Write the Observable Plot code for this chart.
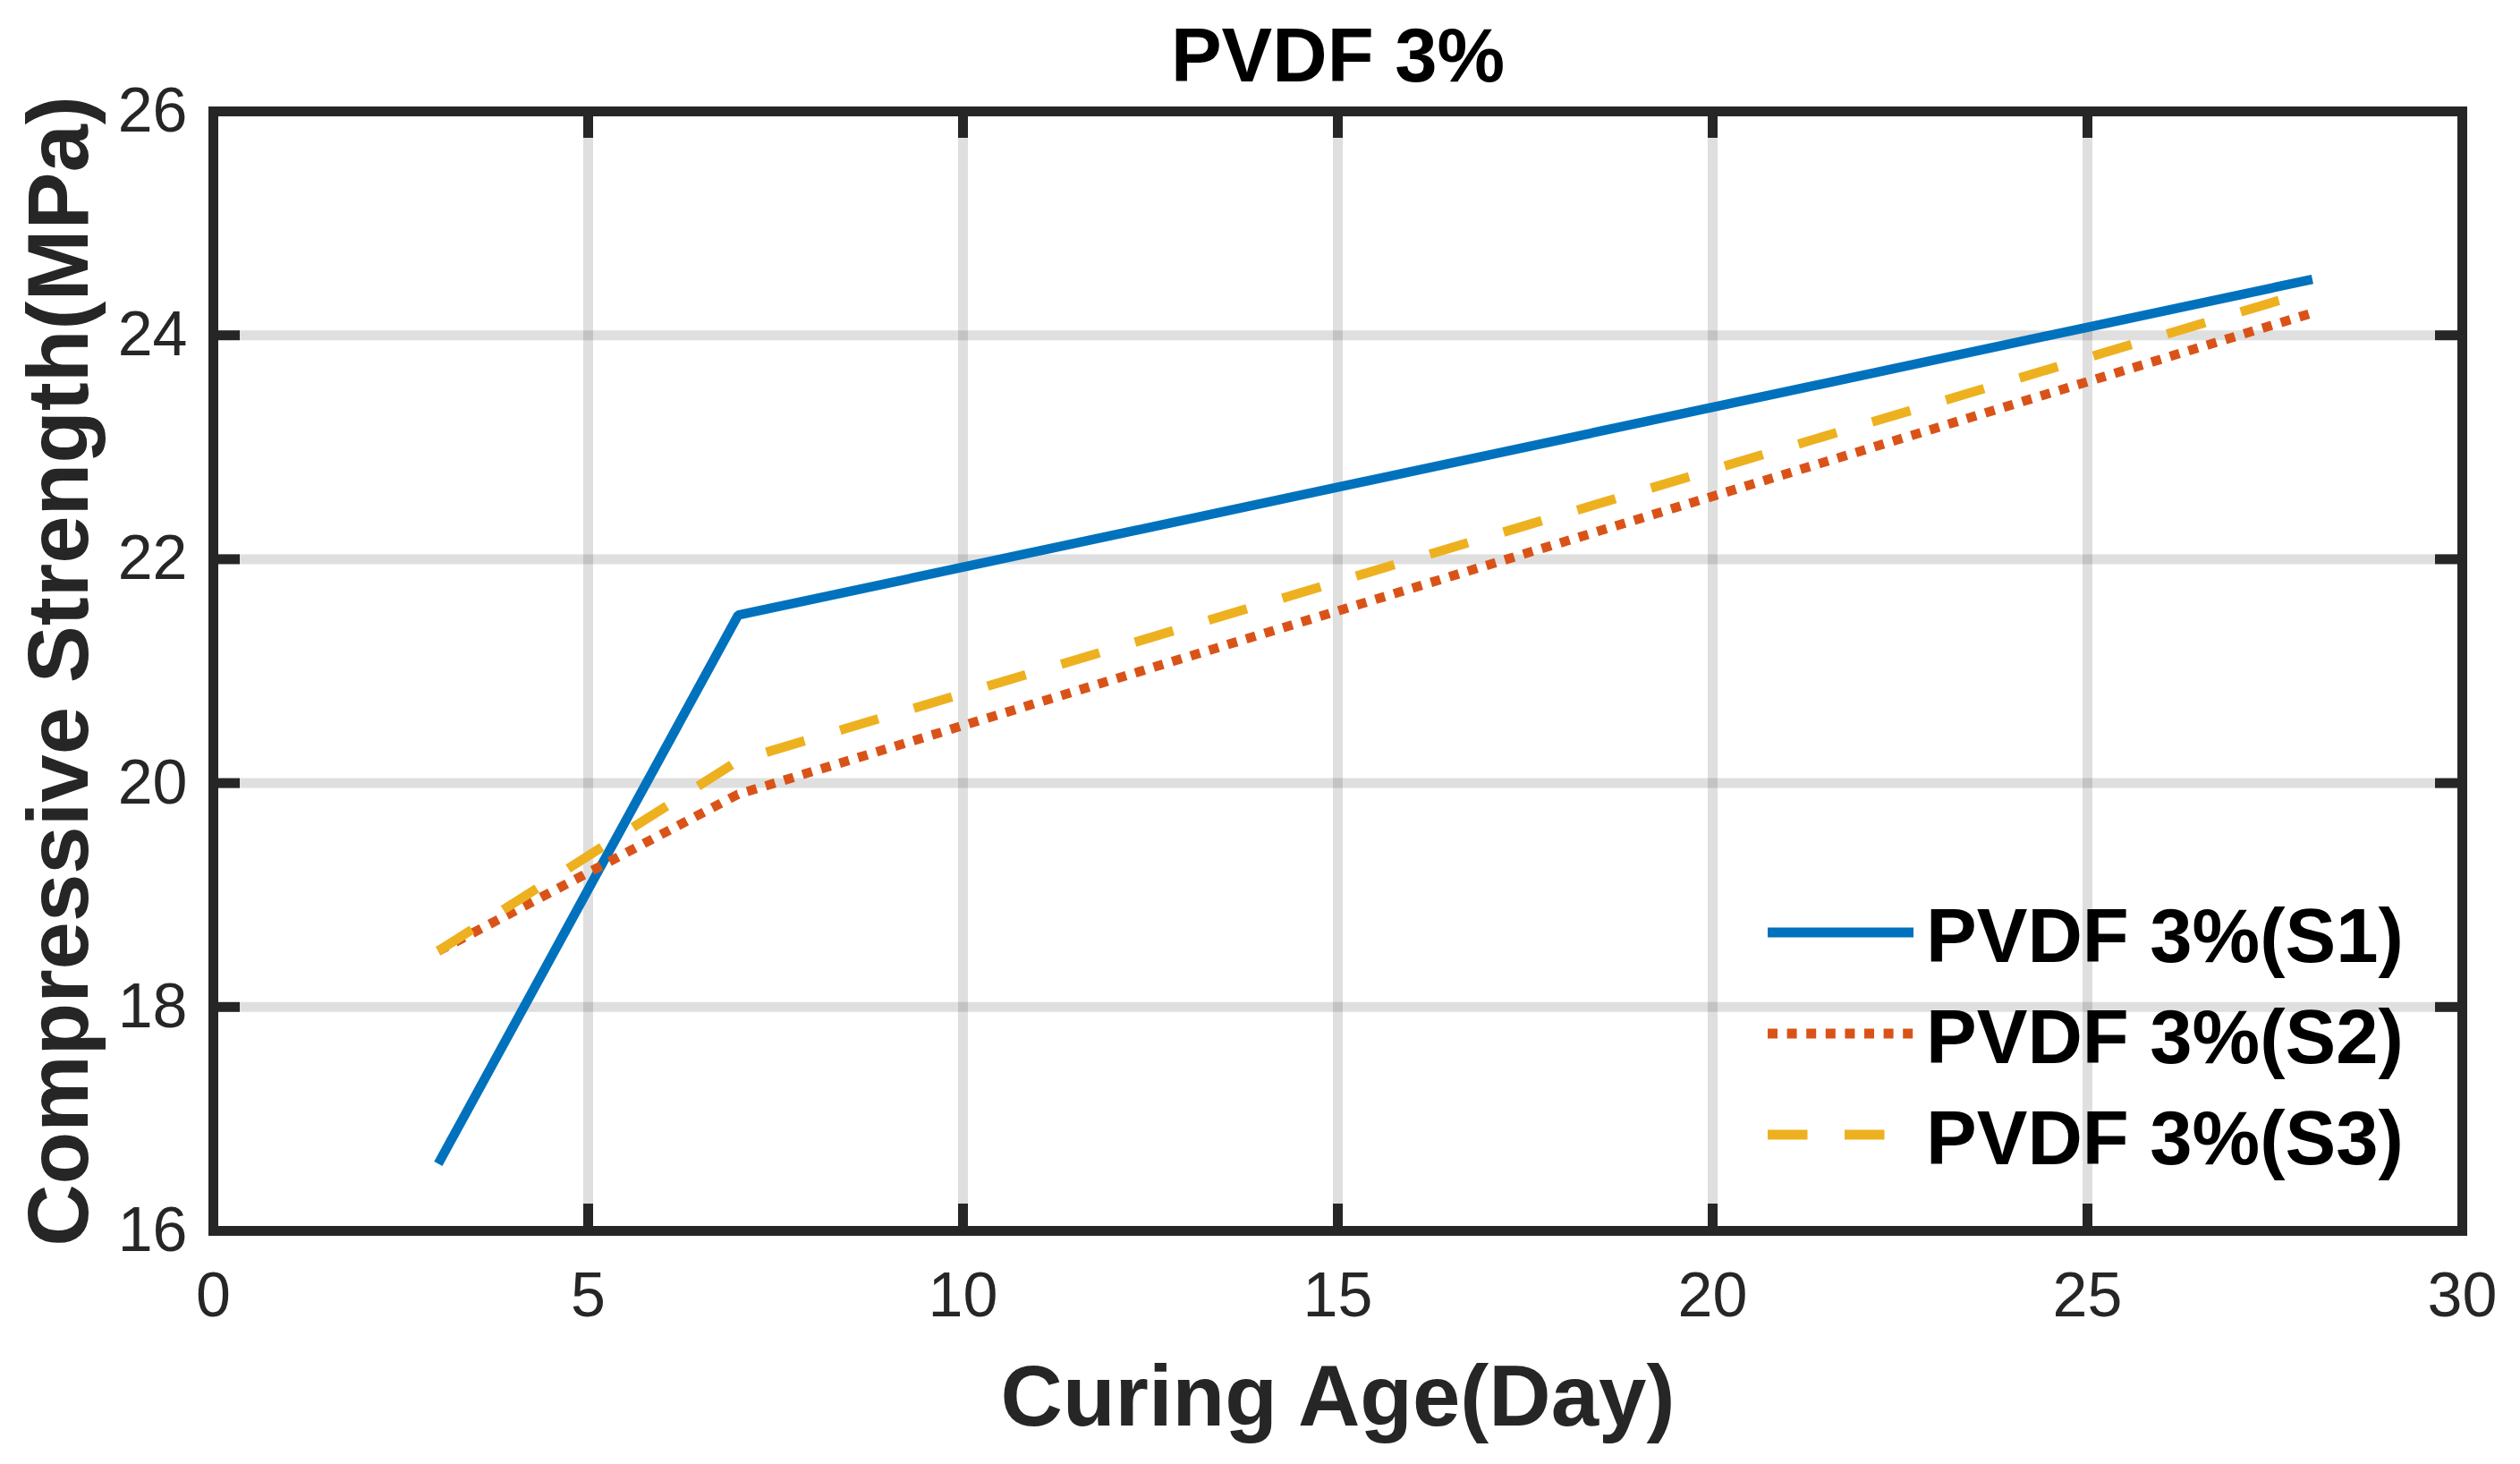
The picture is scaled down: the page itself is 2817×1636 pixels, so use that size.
<!DOCTYPE html>
<html>
<head>
<meta charset="utf-8">
<script src="https://cdn.jsdelivr.net/npm/d3@7"></script>
<script src="https://cdn.jsdelivr.net/npm/@observablehq/plot@0.6"></script>
<style>
html, body { margin: 0; padding: 0; background: #fff; overflow: hidden; }
#chart { position: relative; width: 2817px; height: 1636px; }
#chart svg { position: absolute; left: 0; top: 0; }
</style>
</head>
<body>
<div id="chart"></div>
<script>
// ---- data ----
const days = [3, 7, 28];
const seriesNames = ["PVDF 3%(S1)", "PVDF 3%(S2)", "PVDF 3%(S3)"];
const s1 = [16.6, 21.5, 24.5];
const s2 = [18.5, 19.9, 24.2];
const s3 = [18.5, 20.2, 24.4];
const xTicks = [0, 5, 10, 15, 20, 25, 30];
const yTicks = [16, 18, 20, 22, 24, 26];
const titleText = "PVDF 3%";
const xLabel = "Curing Age(Day)";
const yLabel = "Compressive Strength(MPa)";

// ---- styles ----
const colors = ["#0072BD", "#D95319", "#EDB120"];
const dashes = [null, "11,10.6", "44.5,41.5"];
const W = 2817, H = 1636;
const mL = 238, mR = 65, mT = 124, mB = 261;
const innerH = H - mT - mB;
const innerW = W - mL - mR;
const tickLen = 30;
const axisColor = "#262626";
const font = "'Liberation Sans', Arial, Helvetica, sans-serif";

const seriesValues = [s1, s2, s3];
const rows = seriesValues.flatMap((vals, k) =>
  days.map((d, i) => ({series: seriesNames[k], day: d, value: vals[i]}))
);

const lineMarks = seriesNames.map((name, k) =>
  Plot.line(rows.filter(r => r.series === name), {
    x: "day", y: "value",
    stroke: colors[k], strokeWidth: 10.5,
    strokeLinecap: "butt", strokeLinejoin: "miter",
    ...(dashes[k] ? {strokeDasharray: dashes[k]} : {})
  })
);

const tickStyle = {stroke: axisColor, strokeWidth: 11};
const fmt = d => String(d);

const chart = Plot.plot({
  width: W, height: H,
  marginLeft: mL, marginRight: mR, marginTop: mT, marginBottom: mB,
  style: {background: "white", fontFamily: font, overflow: "visible"},
  x: {domain: [0, 30], ticks: xTicks},
  y: {domain: [16, 26], ticks: yTicks},
  marks: [
    Plot.gridX(xTicks, {stroke: axisColor, strokeOpacity: 0.15, strokeWidth: 11}),
    Plot.gridY(yTicks, {stroke: axisColor, strokeOpacity: 0.15, strokeWidth: 11}),
    ...lineMarks,
    Plot.frame({stroke: axisColor, strokeWidth: 11}),
    Plot.tickX(xTicks, {x: d => d, ...tickStyle, insetTop: innerH - tickLen}),
    Plot.tickX(xTicks, {x: d => d, ...tickStyle, insetBottom: innerH - tickLen}),
    Plot.tickY(yTicks, {y: d => d, ...tickStyle, insetRight: innerW - tickLen}),
    Plot.tickY(yTicks, {y: d => d, ...tickStyle, insetLeft: innerW - tickLen}),
    Plot.axisX(xTicks, {tickSize: 0, tickPadding: 46, fontSize: 70, color: axisColor, label: null, tickFormat: fmt}),
    Plot.axisY(yTicks, {tickSize: 0, tickPadding: 29, fontSize: 70, color: axisColor, label: null, tickFormat: fmt}),
    Plot.text([titleText], {text: d => d, frameAnchor: "top", dy: 90 - mT, lineAnchor: "bottom",
      textAnchor: "middle", fontSize: 85, fontWeight: "bold", fill: "#000"}),
    Plot.text([xLabel], {text: d => d, frameAnchor: "bottom", dy: 1592 - (H - mB), lineAnchor: "bottom",
      textAnchor: "middle", fontSize: 96, fontWeight: "bold", fill: axisColor}),
    Plot.text([yLabel], {text: d => d, frameAnchor: "left", dx: 67 - mL, rotate: -90, lineAnchor: "middle",
      textAnchor: "middle", fontSize: 96, fontWeight: "bold", fill: axisColor})
  ]
});

const container = document.getElementById("chart");
container.appendChild(chart);

// ---- legend overlay ----
const legend = d3.create("svg")
  .attr("width", W).attr("height", H)
  .style("position", "absolute").style("left", "0px").style("top", "0px")
  .style("pointer-events", "none");
seriesNames.forEach((name, k) => {
  const y = 1042 + k * 113;
  legend.append("line")
    .attr("x1", 1976).attr("x2", 2139).attr("y1", y).attr("y2", y)
    .attr("stroke", colors[k]).attr("stroke-width", 11)
    .attr("stroke-dasharray", dashes[k])
    .attr("stroke-linecap", "butt");
  legend.append("text")
    .attr("x", 2153).attr("y", y).attr("dy", "0.39em")
    .attr("font-family", font).attr("font-size", 85).attr("font-weight", "bold")
    .attr("fill", "#000")
    .text(name);
});
container.appendChild(legend.node());
</script>
</body>
</html>
